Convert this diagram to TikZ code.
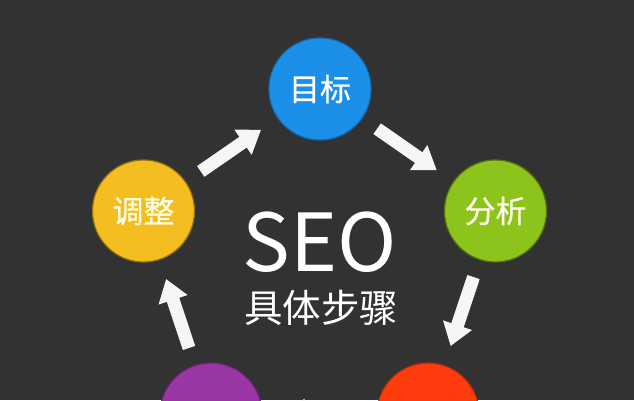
\documentclass[tikz,border=0pt]{standalone}
\usepackage{fontspec}
\setmainfont{Noto Sans CJK SC}
\newfontfamily\labelfont[FakeBold=0.5]{Noto Sans CJK SC}
\usetikzlibrary{arrows.meta}
\definecolor{bg}{HTML}{323232}
\definecolor{cblue}{HTML}{1C8FE8}
\definecolor{cgreen}{HTML}{8DC41C}
\definecolor{cyellow}{HTML}{F4BD20}
\definecolor{cpurple}{HTML}{9A36A6}
\definecolor{corange}{HTML}{FE3C0E}
\definecolor{arrowwhite}{HTML}{F6F6F6}
\begin{document}
\begin{tikzpicture}[x=1pt,y=-1pt,
  stepcirc/.style={circle, minimum size=102pt, inner sep=0pt, line width=1.2pt,
    font=\labelfont\fontsize{31pt}{31pt}\selectfont, text=white},
  flow/.style={draw=arrowwhite, line width=13pt,
    -{Triangle[width=29pt,length=22pt]}, shorten <=18pt, shorten >=20pt}]
\useasboundingbox (0,0) rectangle (634,400);
\fill[bg] (0,0) rectangle (634,400);
\clip (0,0) rectangle (634,400);

\node[stepcirc, fill=cblue, draw=cblue!75!black] (goal) at (320,89) {目标};
\node[stepcirc, fill=cgreen, draw=cgreen!60!black, text=white!92!yellow] (analyze) at (495.5,211) {分析};
\node[stepcirc, fill=corange, draw=corange!70!black] (orangestep) at (428,414) {};
\node[stepcirc, fill=cpurple, draw=cpurple!70!black] (purplestep) at (211,414) {};
\node[stepcirc, fill=cyellow, draw=cyellow!60!black, text=white!90!yellow] (adjust) at (143.5,211) {调整};

\node[anchor=base, text=white, inner sep=0pt, font=\fontsize{80pt}{80pt}\selectfont] (seo) at (319.5,271) {SEO};
\node[anchor=base, text=white, inner sep=0pt, font=\fontsize{38.5pt}{38.5pt}\selectfont] (steps) at (321,322) {具体步骤};

\draw[flow] (adjust) -- (goal);
\draw[flow] (goal) -- (analyze);
\draw[flow] (analyze) -- (orangestep);
\draw[flow] (orangestep) -- (purplestep);
\draw[flow] (purplestep) -- (adjust);
\end{tikzpicture}
\end{document}
